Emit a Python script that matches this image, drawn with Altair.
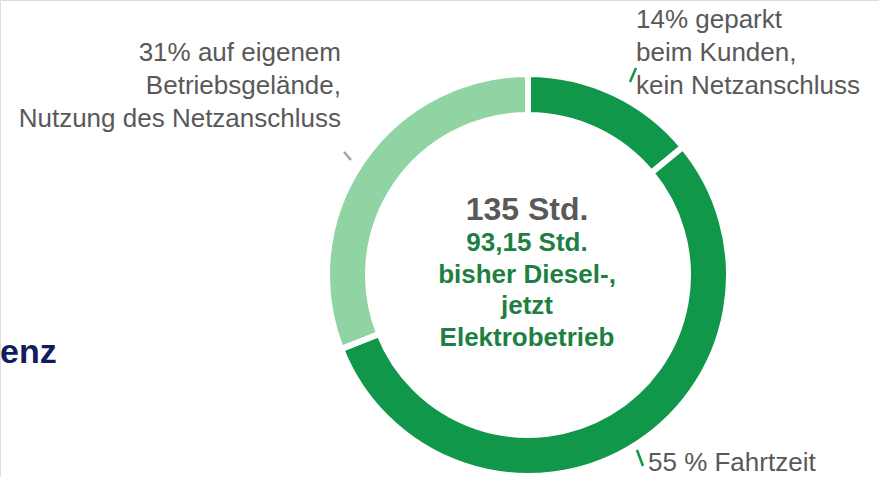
import altair as alt
import pandas as pd

# Donut data
segments = ["14% geparkt", "55 % Fahrtzeit", "31% Betriebsgelände"]
shares = [14, 55, 31]
order_idx = [0, 1, 2]
seg_colors = ["#11974a", "#11974a", "#8fd4a2"]

# Labels
label_tr = ["14% geparkt", "beim Kunden,", "kein Netzanschluss"]
label_tl = ["31% auf eigenem", "Betriebsgelände,", "Nutzung des Netzanschluss"]
label_br = ["55 % Fahrtzeit"]
center_main = ["135 Std."]
center_sub = ["93,15 Std.", "bisher Diesel-,", "jetzt", "Elektrobetrieb"]
left_word = ["enz"]

CX, CY = 528, 275
W, H = 879, 477

df = pd.DataFrame({"seg": segments, "share": shares, "idx": order_idx, "col": seg_colors})

donut = alt.Chart(df).mark_arc(
    innerRadius=160, outerRadius=201, stroke="white", strokeWidth=6
).encode(
    theta=alt.Theta("share:Q", stack=True),
    order=alt.Order("idx:Q"),
    color=alt.Color("col:N", scale=None),
    x=alt.value(CX),
    y=alt.value(CY),
)

font = "Liberation Sans"
gray = "#595959"

def text_block(lines, x, y0, dy, align, size, color, weight="normal"):
    d = pd.DataFrame({"t": lines, "i": list(range(len(lines)))})
    d["y"] = [y0 + dy * i for i in range(len(lines))]
    return alt.Chart(d).mark_text(
        align=align, baseline="middle", font=font, fontSize=size,
        color=color, fontWeight=weight
    ).encode(
        text="t:N",
        x=alt.value(x),
        y=alt.Y("y:Q", scale=alt.Scale(domain=[0, H], range=[0, H]), axis=None),
    )

tr = text_block(label_tr, 636, 20, 33, "left", 26, gray)
tl = text_block(label_tl, 341, 53, 33, "right", 26, gray)
br = text_block(label_br, 648, 463, 33, "left", 26, gray)
cm = text_block(center_main, 527, 210, 32, "center", 32, gray, "bold")
cs = text_block(center_sub, 527, 243, 31.5, "center", 26, "#1f7f42", "bold")
lw = text_block(left_word, 0, 353, 30, "left", 34, "#101c5e", "bold")

# small leader ticks
ticks = pd.DataFrame({
    "x1": [630, 637, 344], "y1": [82, 450, 152],
    "x2": [636, 643, 351], "y2": [68, 466, 160],
    "c": ["#11974a", "#11974a", "#9aa5b0"],
})
lead = alt.Chart(ticks).mark_rule(strokeWidth=2.5).encode(
    x=alt.X("x1:Q", scale=alt.Scale(domain=[0, W], range=[0, W]), axis=None),
    x2="x2:Q",
    y=alt.Y("y1:Q", scale=alt.Scale(domain=[0, H], range=[0, H]), axis=None),
    y2="y2:Q",
    color=alt.Color("c:N", scale=None),
)

chart = alt.layer(donut, lead, tr, tl, br, cm, cs, lw).properties(
    width=W, height=H, padding=0, autosize=alt.AutoSizeParams(type="none")
).configure_view(stroke=None).configure(background="white")

chart.save("out.html", embed_options={"renderer": "svg", "actions": False})
